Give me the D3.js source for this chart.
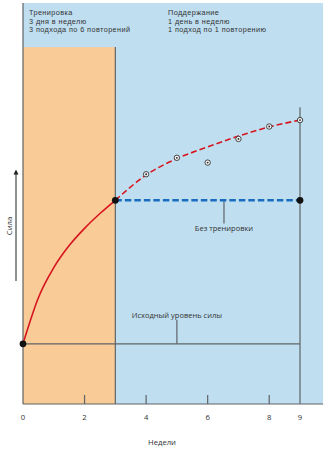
<!DOCTYPE html>
<html><head><meta charset="utf-8">
<script src="https://cdn.jsdelivr.net/npm/d3@7"></script>
<style>
html,body{margin:0;padding:0;background:#fff;}
svg{display:block;font-family:"Open Sans","Noto Sans",sans-serif;}
.hdr{font-family:"Liberation Sans","DejaVu Sans",sans-serif;letter-spacing:0.4px;}
</style></head>
<body><svg id="c" width="325" height="450"></svg>
<script>
// ---- data ----
const tickWeeks = [0, 2, 4, 6, 8, 9];
const minorTickWeeks = [2, 4, 6, 8];
const trainingWeeks = [0, 0.5, 1, 1.5, 2, 2.5, 3];
const trainingStrength = [15, 26.5, 34, 39.5, 43.8, 47.5, 50.8];
const maintenanceWeeks = [3, 4, 5, 6, 7, 8, 9];
const maintenanceStrength = [50.8, 57.1, 61.2, 64.1, 66.8, 69.1, 70.8];
const observedWeeks = [4, 5, 6, 7, 8, 9];
const observedStrength = [57.3, 61.4, 60.2, 66.1, 69.2, 70.8];
const detrainWeeks = [3, 9];
const detrainStrength = [50.8, 50.8];
const baselineStrength = 15;
const trainingEnd = 3, studyEnd = 9, plotEnd = 9.75;
const trainingTop = 89, studyLineTop = 74, yMax = 100;
const trainingText = ["Тренировка", "3 дня в неделю", "3 подхода по 6 повторений"];
const maintText = ["Поддержание", "1 день в неделю", "1 подход по 1 повторению"];
const xTitle = "Недели", yTitle = "Сила";
const baselineLabel = "Исходный уровень силы", detrainLabel = "Без тренировки";

const svg = d3.select("#c");
const x = d3.scaleLinear().domain([0, 9]).range([23, 300]);
const y = d3.scaleLinear().domain([0, yMax]).range([404, 3]);
const grey = "#5f6366";
const txt = "#333";

// backgrounds
svg.append("rect").attr("x", x(0)).attr("y", y(yMax)).attr("width", x(plotEnd) - x(0)).attr("height", y(0) - y(yMax)).attr("fill", "#bfdff1");
svg.append("rect").attr("x", x(0)).attr("y", y(trainingTop)).attr("width", x(trainingEnd) - x(0)).attr("height", y(0) - y(trainingTop)).attr("fill", "#f8cb97");

// frame lines
svg.append("line").attr("x1", x(0)).attr("x2", x(0)).attr("y1", y(yMax)).attr("y2", y(0)).attr("stroke", grey).attr("stroke-width", 1.2);
svg.append("line").attr("x1", x(0)).attr("x2", x(plotEnd)).attr("y1", y(0)).attr("y2", y(0)).attr("stroke", grey).attr("stroke-width", 1.2);
svg.append("line").attr("x1", x(trainingEnd)).attr("x2", x(trainingEnd)).attr("y1", y(trainingTop)).attr("y2", y(0)).attr("stroke", grey).attr("stroke-width", 1.2);
svg.append("line").attr("x1", x(studyEnd)).attr("x2", x(studyEnd)).attr("y1", y(studyLineTop)).attr("y2", y(0)).attr("stroke", grey).attr("stroke-width", 1.2);
// baseline
svg.append("line").attr("x1", x(0)).attr("x2", x(studyEnd)).attr("y1", y(baselineStrength)).attr("y2", y(baselineStrength)).attr("stroke", grey).attr("stroke-width", 1.2);

// minor ticks
svg.selectAll(".mt").data(minorTickWeeks).join("line")
  .attr("x1", d => x(d)).attr("x2", d => x(d)).attr("y1", y(0)).attr("y2", y(0) - 9)
  .attr("stroke", grey).attr("stroke-width", 1.2);

// tick labels
svg.selectAll(".tl").data(tickWeeks).join("text")
  .attr("x", d => x(d)).attr("y", 420).attr("text-anchor", "middle")
  .attr("font-size", 7.7).attr("fill", txt).text(d => d);
svg.append("text").attr("x", 162).attr("y", 445).attr("text-anchor", "middle").attr("font-size", 7.7).attr("fill", txt).text(xTitle);

// y title + arrow
svg.append("defs").append("marker").attr("id", "ah").attr("viewBox", "0 0 10 10").attr("refX", 5).attr("refY", 5)
  .attr("markerWidth", 5).attr("markerHeight", 6).attr("orient", "auto")
  .append("path").attr("d", "M0,0L10,5L0,10z").attr("fill", "#222");
svg.append("line").attr("x1", 16).attr("x2", 16).attr("y1", 281).attr("y2", 172).attr("stroke", "#222").attr("stroke-width", 1).attr("marker-end", "url(#ah)");
svg.append("text").attr("transform", "translate(12,226) rotate(-90)").attr("text-anchor", "middle").attr("font-size", 7.7).attr("fill", txt).text(yTitle);

// header texts
svg.selectAll(".t1").data(trainingText).join("text").attr("class", "hdr").attr("x", 29).attr("y", (d, i) => 15.3 + i * 8.4)
  .attr("font-size", 7.3).attr("fill", txt).text(d => d);
svg.selectAll(".t2").data(maintText).join("text").attr("class", "hdr").attr("x", 168).attr("y", (d, i) => 15.3 + i * 8.4)
  .attr("font-size", 7.3).attr("fill", txt).text(d => d);

// leader for baseline label
svg.append("line").attr("x1", x(5)).attr("x2", x(5)).attr("y1", y(21)).attr("y2", y(baselineStrength)).attr("stroke", grey).attr("stroke-width", 1.2);
svg.append("text").attr("x", x(5)).attr("y", 318).attr("text-anchor", "middle").attr("font-size", 7.5).attr("fill", txt).text(baselineLabel);

// detraining line
const line = d3.line().x(d => x(d[0])).y(d => y(d[1]));
svg.append("line").attr("x1", x(6.53)).attr("x2", x(6.53)).attr("y1", y(50.8)).attr("y2", y(45)).attr("stroke", grey).attr("stroke-width", 1.2);
svg.append("text").attr("x", x(6.53)).attr("y", 231).attr("text-anchor", "middle").attr("font-size", 7.5).attr("fill", txt).text(detrainLabel);
svg.append("path").datum(d3.zip(detrainWeeks, detrainStrength)).attr("d", line)
  .attr("fill", "none").attr("stroke", "#1a6cc0").attr("stroke-width", 2.4).attr("stroke-dasharray", "6.5,3");

// training curve
const curve = d3.line().x(d => x(d[0])).y(d => y(d[1])).curve(d3.curveMonotoneX);
svg.append("path").datum(d3.zip(trainingWeeks, trainingStrength)).attr("d", curve)
  .attr("fill", "none").attr("stroke", "#d7141e").attr("stroke-width", 1.6);
svg.append("path").datum(d3.zip(maintenanceWeeks, maintenanceStrength)).attr("d", curve)
  .attr("fill", "none").attr("stroke", "#d7141e").attr("stroke-width", 1.6).attr("stroke-dasharray", "6,3");

// observed points
const obs = svg.selectAll(".ob").data(d3.zip(observedWeeks, observedStrength)).join("g")
  .attr("transform", d => `translate(${x(d[0])},${y(d[1])})`);
obs.append("circle").attr("r", 2.7).attr("fill", "#f4f4f4").attr("stroke", "#333").attr("stroke-width", 0.9);
obs.append("circle").attr("r", 0.9).attr("fill", "#222");

// black dots
const dots = [[0, baselineStrength], [trainingEnd, trainingStrength[trainingStrength.length - 1]], [studyEnd, detrainStrength[1]]];
svg.selectAll(".bd").data(dots).join("circle").attr("cx", d => x(d[0])).attr("cy", d => y(d[1])).attr("r", 3.4).attr("fill", "#111");
</script></body></html>
